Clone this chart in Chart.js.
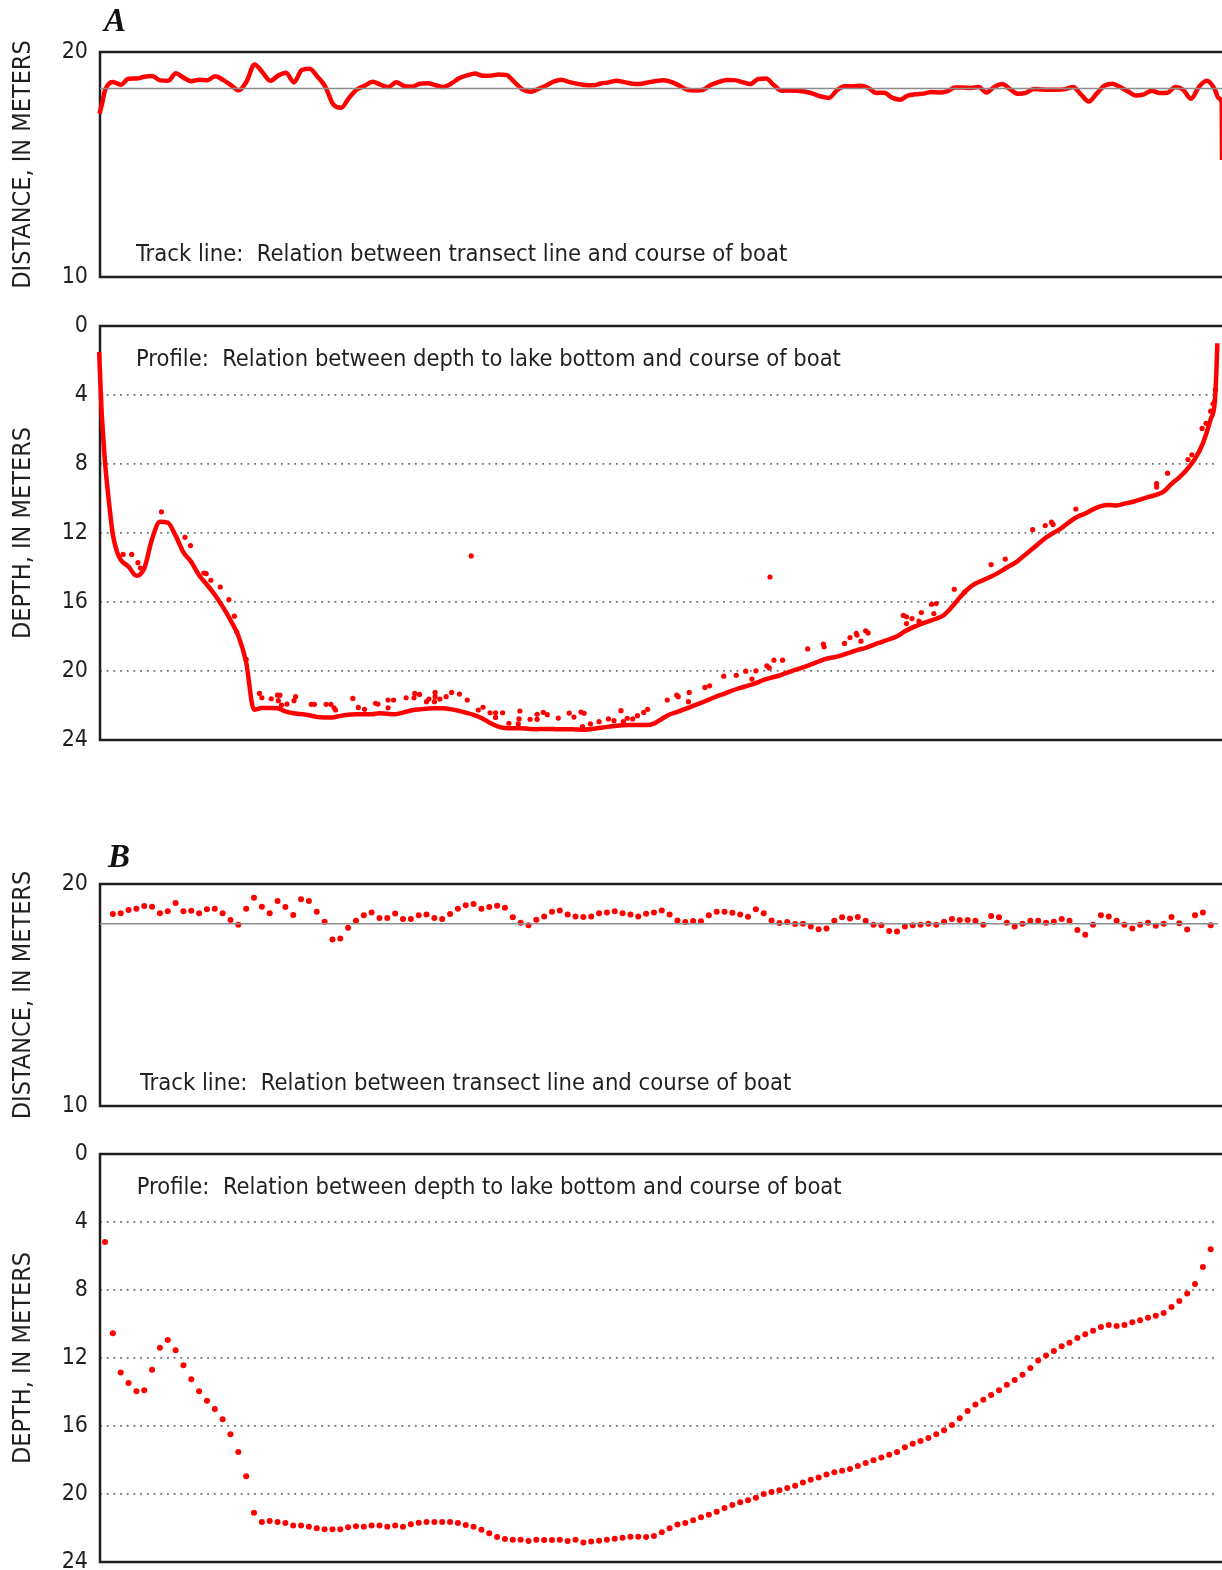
<!DOCTYPE html>
<html>
<head>
<meta charset="utf-8">
<title>Track line and profile</title>
<script src="https://cdn.jsdelivr.net/npm/chart.js@4.4.1/dist/chart.umd.min.js"></script>
<style>
  html, body { margin: 0; padding: 0; background: #fff; overflow: hidden; }
  body { width: 1222px; height: 1570px; position: relative; }
  .panel { position: absolute; left: 0; width: 1222px; }
  .tag {
    position: absolute; z-index: 2;
    font-family: "Liberation Serif", "DejaVu Serif", serif;
    font-weight: bold; font-style: italic;
    font-size: 33px; line-height: 33px; color: #111;
  }
</style>
</head>
<body>
<div class="panel" style="top:22px;height:285px"><canvas id="aTrack" width="1222" height="285"></canvas></div>
<div class="panel" style="top:296px;height:474px"><canvas id="aProfile" width="1222" height="474"></canvas></div>
<div class="panel" style="top:854px;height:282px"><canvas id="bTrack" width="1222" height="282"></canvas></div>
<div class="panel" style="top:1124px;height:468px"><canvas id="bProfile" width="1222" height="468"></canvas></div>
<div class="tag" style="left:104px;top:4px">A</div>
<div class="tag" style="left:108px;top:840px">B</div>

<script>
// ---- Survey A: continuous record (one value per ping, plus edge samples) ----
const aTrackDist = [
  18.3, 18.67, 18.55, 18.81, 18.82, 18.9, 18.93, 18.74, 18.72, 19.05,
  18.85, 18.7, 18.77, 18.75, 18.92, 18.76, 18.53, 18.3, 18.7, 19.45,
  19.1, 18.72, 18.95, 19.08, 18.65, 19.2, 19.26, 18.9, 18.45, 17.67,
  17.52, 17.96, 18.33, 18.5, 18.68, 18.55, 18.44, 18.66, 18.49, 18.46,
  18.59, 18.61, 18.52, 18.44, 18.6, 18.83, 18.96, 19.05, 18.94, 18.95,
  19.0, 18.98, 18.67, 18.35, 18.23, 18.35, 18.5, 18.68, 18.77, 18.66,
  18.59, 18.53, 18.52, 18.6, 18.65, 18.72, 18.66, 18.59, 18.58, 18.65,
  18.71, 18.74, 18.66, 18.5, 18.32, 18.29, 18.32, 18.54, 18.67, 18.76,
  18.75, 18.66, 18.58, 18.8, 18.82, 18.52, 18.28, 18.29, 18.28, 18.23,
  18.14, 18.02, 17.96, 18.3, 18.48, 18.47, 18.5, 18.4, 18.18, 18.19,
  17.97, 17.88, 18.06, 18.12, 18.15, 18.22, 18.2, 18.25, 18.42, 18.42,
  18.4, 18.44, 18.2, 18.45, 18.58, 18.35, 18.14, 18.18, 18.36, 18.33,
  18.32, 18.32, 18.35, 18.44, 18.12, 17.8, 18.15, 18.5, 18.59, 18.44,
  18.24, 18.07, 18.12, 18.28, 18.18, 18.19, 18.45, 18.32, 17.92, 18.45,
  18.72, 18.35
];
const aTrackHeadPing = [-0.7, -0.35];
const aTrackHeadDist = [17.25, 17.75];
const aTrackTailPing = [141.5, 141.9, 141.93];
const aTrackTailDist = [17.95, 17.73, 15.2];

// depth profile, pings 2..141
const aProfileDepth = [
  13.55, 13.95, 14.48, 14.05, 12.35, 11.35, 11.4, 12.15, 13.12, 13.68,
  14.45, 15.0, 15.58, 16.27, 17.05, 17.96, 19.5, 22.25, 22.14, 22.14,
  22.16, 22.34, 22.45, 22.5, 22.56, 22.66, 22.69, 22.69, 22.6, 22.54,
  22.51, 22.5, 22.51, 22.45, 22.48, 22.5, 22.41, 22.29, 22.23, 22.19,
  22.16, 22.16, 22.21, 22.3, 22.41, 22.54, 22.72, 22.98, 23.2, 23.31,
  23.32, 23.32, 23.35, 23.37, 23.36, 23.36, 23.38, 23.37, 23.39, 23.41,
  23.36, 23.31, 23.24, 23.19, 23.15, 23.13, 23.13, 23.13, 23.05, 22.78,
  22.52, 22.37, 22.19, 22.02, 21.85, 21.66, 21.47, 21.31, 21.13, 20.98,
  20.85, 20.7, 20.52, 20.38, 20.26, 20.09, 19.94, 19.79, 19.63, 19.45,
  19.28, 19.2, 19.08, 18.93, 18.78, 18.66, 18.48, 18.32, 18.16, 17.98,
  17.7, 17.47, 17.28, 17.12, 16.97, 16.75, 16.28, 15.74, 15.26, 14.93,
  14.73, 14.52, 14.28, 14.0, 13.75, 13.39, 13.02, 12.64, 12.26, 11.98,
  11.7, 11.35, 11.06, 10.87, 10.63, 10.44, 10.38, 10.4, 10.3, 10.2,
  10.07, 9.92, 9.79, 9.6, 9.15, 8.77, 8.3, 7.7, 6.8, 5.4
];
const aProfileHeadPing = [-0.75, -0.45, -0.2, 0, 0.5, 1, 1.5];
const aProfileHeadDepth = [1.5, 4.8, 6.6, 7.9, 10.2, 12.1, 13.05];
const aProfileTailPing = [141.5, 141.7, 141.85];
const aProfileTailDepth = [4.5, 2.9, 1.0];

// scattered soundings off the bottom trace
const aStrayPing = [
  2.3, 3.4, 4.2, 4.5, 7.2, 10.2, 10.9, 12.6, 12.9, 13.5, 14.7, 15.8, 16.5, 16.8, 18.0,
  19.7, 20.0, 21.2, 22.0, 22.3, 22.1, 22.5, 23.2, 24.3, 24.1, 26.3, 26.7, 28.2, 28.8, 29.2, 29.4,
  31.6, 32.3, 33.1, 34.5, 34.8, 36.1, 36.1, 36.8,
  38.4, 39.4, 39.5, 40.1, 41.0, 41.3, 42.1, 42.1, 42.0, 42.7, 43.5, 44.2, 45.2, 46.2, 46.7,
  47.6, 48.2, 49.1, 49.8, 49.8, 50.7, 51.5, 52.9, 52.8, 52.7, 54.2, 55.1, 55.1, 55.9, 56.4,
  57.8, 59.2, 59.8, 60.7, 61.1, 60.9, 61.9, 63.0, 64.2, 64.9, 65.8, 66.1, 66.6, 67.3, 67.9,
  68.7, 69.2, 71.7, 72.9, 73.1, 74.5, 74.4, 76.5, 77.1, 78.9, 80.5, 81.7, 82.5, 83.0, 84.4,
  84.7, 85.3, 84.8, 86.4, 89.6, 91.6, 91.7, 94.3, 95.0, 95.8, 95.9, 96.4, 97.0, 97.3,
  101.8, 102.2, 102.2, 102.9, 103.8, 104.1, 105.4, 106.0, 105.7, 108.3, 109.6, 113.0, 114.8,
  118.3, 119.9, 120.7, 120.9, 123.8, 134.1, 134.1, 135.5, 138.1, 138.6, 139.9, 140.4, 141.0,
  141.3, 141.5, 141.6
];
const aStrayDepth = [
  13.24, 13.24, 13.72, 14.03, 10.77, 12.25, 12.73, 14.32, 14.35, 14.74, 15.13, 15.86, 16.82, 17.73, 19.33,
  21.3, 21.55, 21.61, 21.4, 21.4, 21.72, 21.97, 21.92, 21.49, 21.72, 21.93, 21.93, 21.93, 21.93, 22.13, 22.26,
  21.59, 22.11, 22.22, 21.87, 21.92, 21.68, 22.13, 21.68,
  21.55, 21.55, 21.3, 21.36, 21.78, 21.63, 21.24, 21.49, 21.78, 21.63, 21.49, 21.24, 21.34, 21.68, 13.33,
  22.26, 22.1, 22.42, 22.42, 22.69, 22.42, 23.03, 22.32, 22.78, 23.07, 22.8, 22.51, 22.8, 22.4, 22.53,
  22.73, 22.44, 22.67, 22.38, 22.45, 23.23, 23.07, 22.94, 22.78, 22.88, 22.3, 22.94, 22.74, 22.78, 22.59,
  22.4, 22.22, 21.68, 21.4, 21.49, 21.24, 21.78, 20.95, 20.86, 20.3, 20.25, 20.01, 20.47, 19.99, 19.7,
  19.82, 19.37, 14.55, 19.37, 18.72, 18.44, 18.6, 18.4, 18.06, 17.82, 17.92, 18.27, 17.67, 17.79,
  16.78, 16.86, 17.25, 16.96, 17.11, 16.61, 16.13, 16.09, 16.67, 15.26, 15.42, 13.83, 13.51,
  11.81, 11.57, 11.37, 11.5, 10.61, 9.14, 9.34, 8.53, 7.74, 7.47, 5.94, 5.64, 4.94,
  4.51, 4.36, 3.7
];

// ---- Survey B: one sounding per ping (ping 0 has no track fix) ----
const bTrackDist = [
  null, 18.65, 18.68, 18.83, 18.89, 19.01, 18.98, 18.68, 18.77, 19.14,
  18.77, 18.80, 18.68, 18.86, 18.89, 18.68, 18.38, 18.17, 18.89, 19.38,
  18.98, 18.68, 19.23, 18.96, 18.60, 19.31, 19.23, 18.75, 18.30, 17.50,
  17.55, 18.03, 18.35, 18.59, 18.72, 18.47, 18.47, 18.67, 18.42, 18.42,
  18.59, 18.63, 18.47, 18.42, 18.65, 18.89, 19.04, 19.10, 18.89, 18.96,
  19.02, 18.93, 18.50, 18.25, 18.14, 18.39, 18.54, 18.75, 18.81, 18.63,
  18.54, 18.51, 18.54, 18.68, 18.72, 18.77, 18.68, 18.63, 18.54, 18.66,
  18.72, 18.81, 18.63, 18.36, 18.29, 18.33, 18.32, 18.59, 18.75, 18.75,
  18.70, 18.63, 18.53, 18.86, 18.68, 18.36, 18.24, 18.29, 18.20, 18.21,
  18.09, 17.96, 18.00, 18.35, 18.50, 18.45, 18.51, 18.35, 18.17, 18.14,
  17.88, 17.86, 18.09, 18.14, 18.17, 18.21, 18.17, 18.30, 18.42, 18.38,
  18.38, 18.35, 18.17, 18.56, 18.50, 18.26, 18.08, 18.21, 18.35, 18.35,
  18.26, 18.30, 18.42, 18.35, 17.93, 17.71, 18.17, 18.59, 18.54, 18.35,
  18.17, 18.00, 18.17, 18.26, 18.12, 18.21, 18.51, 18.23, 17.95, 18.59,
  18.72, 18.14
];
const bProfileDepth = [
  5.18, 10.55, 12.86, 13.47, 13.96, 13.90, 12.69, 11.39, 10.94, 11.55,
  12.43, 13.25, 13.96, 14.51, 15.0, 15.61, 16.49, 17.53, 18.96, 21.10,
  21.65, 21.59, 21.65, 21.71, 21.86, 21.86, 21.92, 22.02, 22.08, 22.08,
  22.08, 21.96, 21.90, 21.92, 21.86, 21.86, 21.92, 21.86, 21.92, 21.78,
  21.69, 21.65, 21.65, 21.65, 21.65, 21.71, 21.82, 21.92, 22.10, 22.31,
  22.53, 22.65, 22.69, 22.69, 22.76, 22.69, 22.71, 22.71, 22.69, 22.76,
  22.69, 22.86, 22.80, 22.75, 22.69, 22.63, 22.57, 22.51, 22.51, 22.53,
  22.47, 22.25, 22.02, 21.80, 21.71, 21.55, 21.37, 21.22, 21.04, 20.82,
  20.65, 20.49, 20.37, 20.22, 20.00, 19.88, 19.78, 19.65, 19.51, 19.33,
  19.16, 19.03, 18.85, 18.72, 18.63, 18.53, 18.35, 18.18, 18.02, 17.86,
  17.69, 17.53, 17.25, 17.04, 16.88, 16.71, 16.49, 16.25, 15.94, 15.55,
  15.12, 14.73, 14.45, 14.18, 13.90, 13.57, 13.29, 12.98, 12.59, 12.14,
  11.86, 11.59, 11.31, 11.10, 10.82, 10.61, 10.39, 10.18, 10.06, 10.12,
  10.06, 9.90, 9.78, 9.63, 9.51, 9.35, 9.0, 8.65, 8.20, 7.65,
  6.65, 5.61
];

// transect reference line (distance, m) for each survey
const aTransectLine = 18.38;
const bTransectLine = 18.21;

// axis ticks
const trackTicks = [10, 20];
const depthTicks = [0, 4, 8, 12, 16, 20, 24];
const pingRange = [-0.64, 141.93];

// ---------------------------------------------------------------------------
const RED = '#ff0000';
const INK = '#231f20';
const NARROW = '"Liberation Sans Narrow", "DejaVu Sans Condensed", "Liberation Sans", sans-serif';

function pairs(xs, ys) { return xs.map((x, i) => ({ x, y: ys[i] })); }
function byPing(ys, first) { return ys.map((y, i) => ({ x: i + first, y })); }

// frame on top, left and bottom of the plot area (the right side runs off the page)
const framePlugin = {
  id: 'frame',
  beforeDatasetsDraw(chart) {
    const { ctx, chartArea: a } = chart;
    ctx.save();
    ctx.strokeStyle = INK;
    ctx.lineWidth = 2.5;
    ctx.beginPath();
    ctx.moveTo(chart.width + 2, a.top);
    ctx.lineTo(a.left, a.top);
    ctx.lineTo(a.left, a.bottom);
    ctx.lineTo(chart.width + 2, a.bottom);
    ctx.stroke();
    ctx.restore();
  }
};

// caption written inside the plot area
const notePlugin = {
  id: 'note',
  beforeDatasetsDraw(chart, args, o) {
    if (!o || !o.text) return;
    const { ctx, chartArea: a } = chart;
    ctx.save();
    ctx.font = o.size + 'px ' + NARROW;
    ctx.fillStyle = INK;
    ctx.textBaseline = 'alphabetic';
    ctx.fillText(o.text, a.left + o.dx, a.top + o.baseline);
    ctx.restore();
  }
};

function yScale(kind, title) {
  const isDepth = kind === 'depth';
  const ticks = isDepth ? depthTicks : trackTicks;
  return {
    type: 'linear',
    reverse: isDepth,
    min: isDepth ? 0 : 10,
    max: isDepth ? 24 : 20,
    afterFit(s) { s.width = 100; },
    afterBuildTicks(s) { s.ticks = ticks.map(v => ({ value: v })); },
    grid: {
      display: isDepth,
      drawTicks: false,
      lineWidth: 1.8,
      color: c => (c.tick && (c.tick.value === 0 || c.tick.value === 24)) ? 'rgba(0,0,0,0)' : '#6f6f6f'
    },
    border: { display: false, dash: [1.8, 4.9] },
    ticks: {
      padding: 12,
      color: INK,
      font: { family: NARROW, size: 23 },
      callback: v => String(v)
    },
    title: {
      display: true,
      text: title,
      color: INK,
      font: { family: NARROW, size: 25 },
      padding: { top: 8, bottom: 0 }
    }
  };
}

function makeChart(id, datasets, kind, title, note) {
  return new Chart(document.getElementById(id), {
    type: 'scatter',
    data: { datasets },
    options: {
      responsive: false,
      animation: false,
      devicePixelRatio: 1,
      layout: { padding: { top: 30, bottom: 30, left: 0, right: 0 } },
      scales: {
        x: { type: 'linear', min: pingRange[0], max: pingRange[1], display: false },
        y: yScale(kind, title)
      },
      plugins: { legend: { display: false }, tooltip: { enabled: false }, note }
    },
    plugins: [framePlugin, notePlugin]
  });
}

function refLine(value) {
  return {
    data: [{ x: pingRange[0], y: value }, { x: pingRange[1], y: value }],
    showLine: true, borderColor: '#8c8c8c', borderWidth: 1.6, pointRadius: 0, clip: false
  };
}

const trackNote = 'Track line:  Relation between transect line and course of boat';
const profileNote = 'Profile:  Relation between depth to lake bottom and course of boat';

// A: track line
makeChart('aTrack', [
  refLine(aTransectLine),
  {
    data: [...pairs(aTrackHeadPing, aTrackHeadDist), ...byPing(aTrackDist, 0), ...pairs(aTrackTailPing, aTrackTailDist)],
    showLine: true, borderColor: RED, borderWidth: 4.5, pointRadius: 0,
    cubicInterpolationMode: 'monotone', clip: false
  }
], 'track', 'DISTANCE, IN METERS',
  { text: trackNote, dx: 36, baseline: 208.5, size: 23.6 });

// A: depth profile
makeChart('aProfile', [
  {
    data: pairs(aStrayPing, aStrayDepth),
    showLine: false, pointRadius: 2.6, pointBackgroundColor: RED, pointBorderWidth: 0, clip: false
  },
  {
    data: [...pairs(aProfileHeadPing, aProfileHeadDepth), ...byPing(aProfileDepth, 2), ...pairs(aProfileTailPing, aProfileTailDepth)],
    showLine: true, borderColor: RED, borderWidth: 4.5, pointRadius: 0,
    cubicInterpolationMode: 'monotone', clip: false
  }
], 'depth', 'DEPTH, IN METERS',
  { text: profileNote, dx: 36, baseline: 40, size: 23.5 });

// B: track line
makeChart('bTrack', [
  refLine(bTransectLine),
  {
    data: byPing(bTrackDist, 0).filter(p => p.y !== null),
    showLine: false, pointRadius: 3, pointBackgroundColor: RED, pointBorderWidth: 0, clip: false
  }
], 'track', 'DISTANCE, IN METERS',
  { text: trackNote, dx: 40, baseline: 206, size: 23.6 });

// B: depth profile
makeChart('bProfile', [
  {
    data: byPing(bProfileDepth, 0),
    showLine: false, pointRadius: 3, pointBackgroundColor: RED, pointBorderWidth: 0, clip: false
  }
], 'depth', 'DEPTH, IN METERS',
  { text: profileNote, dx: 36.7, baseline: 40, size: 23.5 });
</script>
</body>
</html>
